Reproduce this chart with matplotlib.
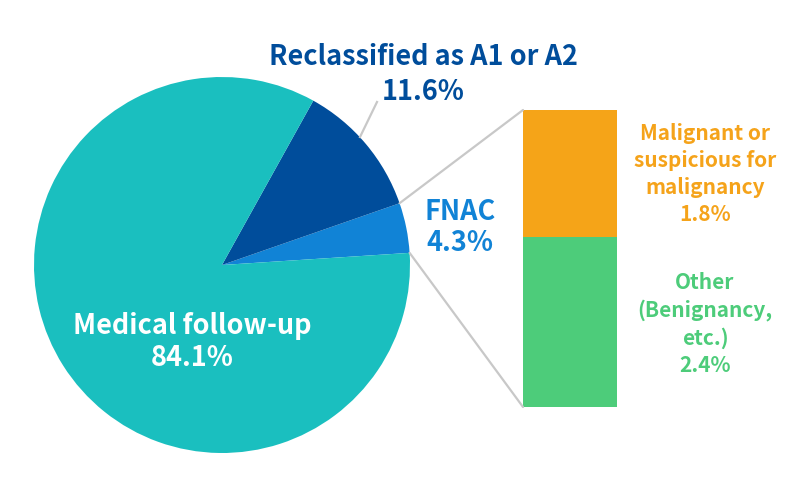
import numpy as np
import matplotlib
matplotlib.use("Agg")
import matplotlib.pyplot as plt
from matplotlib.patches import ConnectionPatch

plt.rcParams['font.family'] = ['Noto Sans CJK JP', 'DejaVu Sans']

pie_labels = ["FNAC", "Reclassified as A1 or A2", "Medical follow-up"]
pie_values = [4.3, 11.6, 84.1]
pie_colors = ["#1183D6", "#004D9B", "#1ABFBF"]

bar_labels = ["Other\n(Benignancy,\netc.)", "Malignant or\nsuspicious for\nmalignancy"]
bar_values = [2.4, 1.8]
bar_colors = ["#4DCC7A", "#F5A418"]

W, H = 800, 500
fig = plt.figure(figsize=(8, 5), dpi=100)

# pie axes: center (222,265), radius 188 px
cx, cy, r = 222, 265, 188
ax_pie = fig.add_axes([(cx - r) / W, (H - cy - r) / H, 2 * r / W, 2 * r / H])
start = 3.7
ax_pie.pie(pie_values, colors=pie_colors, startangle=start, counterclock=True,
           radius=1, wedgeprops=dict(linewidth=0))
ax_pie.set_xlim(-1, 1)
ax_pie.set_ylim(-1, 1)
ax_pie.set_aspect('equal')
ax_pie.axis('off')

# bar axes
bx0, bx1, by0, by1 = 523, 617, 110, 407
ax_bar = fig.add_axes([bx0 / W, (H - by1) / H, (bx1 - bx0) / W, (by1 - by0) / H])
bottom = 0
for v, c in zip(bar_values, bar_colors):
    ax_bar.bar(0, v, width=1, bottom=bottom, color=c, linewidth=0)
    bottom += v
ax_bar.set_xlim(-0.5, 0.5)
ax_bar.set_ylim(0, sum(bar_values))
ax_bar.axis('off')

# connector lines
t1 = np.deg2rad(start)
t2 = np.deg2rad(start + 360 * pie_values[0] / 100)
line_col = "#C8C8C8"
for t, yb in [(t1, 0), (t2, sum(bar_values))]:
    con = ConnectionPatch(xyA=(np.cos(t), np.sin(t)), coordsA=ax_pie.transData,
                          xyB=(-0.5, yb), coordsB=ax_bar.transData,
                          color=line_col, lw=1.6)
    fig.add_artist(con)

# leader line for reclassified
ax_pie.plot([(360 - cx) / r, (377 - cx) / r], [(cy - 137) / r, (cy - 102) / r],
            color=line_col, lw=1.6, clip_on=False)

def ftext(x, y, s, color, size, **kw):
    fig.text(x / W, 1 - y / H, s, color=color, fontsize=size, fontweight='bold',
             ha='center', va='center', **kw)

PS = 19.5
ftext(423, 57, pie_labels[1], pie_colors[1], PS)
ftext(423, 92, f"{pie_values[1]}%", pie_colors[1], PS)
ftext(460, 212, pie_labels[0], pie_colors[0], PS)
ftext(460, 243, f"{pie_values[0]}%", pie_colors[0], PS)
ftext(192, 326, pie_labels[2], "white", PS)
ftext(192, 358, f"{pie_values[2]}%", "white", PS)

BS = 15
ftext(705, 174, bar_labels[1] + f"\n{bar_values[1]}%", "#F5A31A", BS, linespacing=1.35)
ftext(705, 324, bar_labels[0] + f"\n{bar_values[0]}%", "#4DCC7A", BS, linespacing=1.35)

fig.savefig("out.png", dpi=100)
